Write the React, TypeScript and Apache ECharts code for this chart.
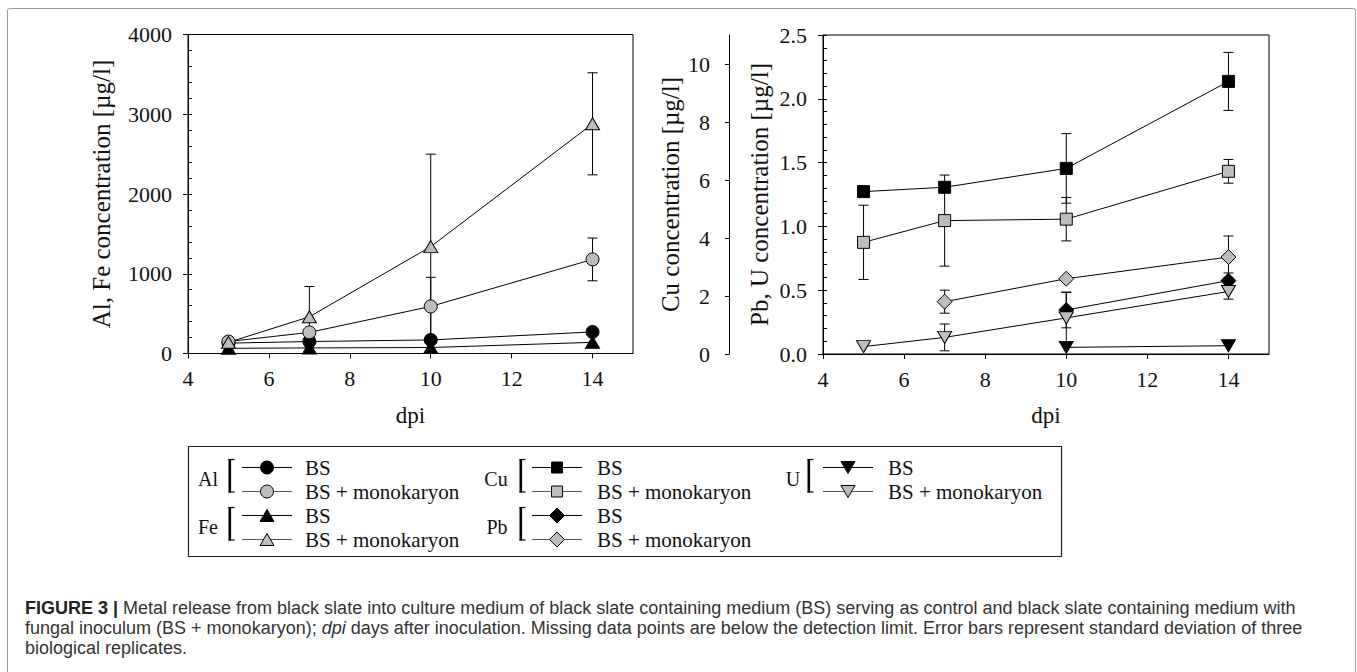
import React, { useEffect, useRef } from 'react';
import * as echarts from 'echarts';

// ---------- data ----------
const days = [5, 7, 10, 14];

const alBS = [130, 150, 170, 270];
const alBSSd = [0, 0, 0, 0];
const alMono = [150, 265, 590, 1180];
const alMonoSd = [0, 0, 365, 268];
const feBS = [65, 70, 75, 140];
const feBSSd = [0, 0, 0, 0];
const feMono = [140, 460, 1340, 2880];
const feMonoSd = [0, 380, 1160, 640];

const cuBS = [5.6, 5.75, 6.4, 9.4];
const cuBSSd = [0, 0, 1.2, 1.0];
const cuMono = [3.85, 4.6, 4.65, 6.3];
const cuMonoSd = [1.28, 1.57, 0.75, 0.41];
const pbBS: (number | null)[] = [null, null, 0.345, 0.575];
const pbBSSd = [0, 0, 0.14, 0.06];
const pbMono: (number | null)[] = [null, 0.41, 0.59, 0.76];
const pbMonoSd = [0, 0.09, 0, 0.165];
const uBS: (number | null)[] = [null, null, 0.052, 0.065];
const uBSSd = [0, 0, 0, 0];
const uMono = [0.058, 0.13, 0.283, 0.49];
const uMonoSd = [0, 0.105, 0.2, 0.06];

const xTickValues = [4, 6, 8, 10, 12, 14];
const cuTickValues = [0, 2, 4, 6, 8, 10];

const captionLine1 =
  'Metal release from black slate into culture medium of black slate containing medium (BS) serving as control and black slate containing medium with';
const captionLine2a = 'fungal inoculum (BS + monokaryon); ';
const captionLine2b =
  ' days after inoculation. Missing data points are below the detection limit. Error bars represent standard deviation of three';
const captionLine3 = 'biological replicates.';

// ---------- styles ----------
const SERIF = "'Liberation Serif', 'Times New Roman', serif";
const SANS = "'Liberation Sans', Arial, sans-serif";
const GRAY = '#bdbdbd';
const INK = '#111';
const CAP = 18;
const LEG = 21;

type Row = (number | null)[];

const pts = (vals: Row) =>
  days.map((d, i) => [d, vals[i]]).filter((p) => p[1] !== null && p[1] !== undefined);

function lineSeries(
  name: string,
  vals: Row,
  symbol: string,
  size: number | number[],
  fill: string,
  xIdx: number,
  yIdx: number,
  rotate = 0
) {
  return {
    type: 'line',
    name,
    xAxisIndex: xIdx,
    yAxisIndex: yIdx,
    data: pts(vals),
    symbol,
    symbolSize: size,
    symbolRotate: rotate,
    showAllSymbol: true,
    z: 3,
    lineStyle: { color: '#000', width: 1 },
    itemStyle: { color: fill, borderColor: '#000', borderWidth: 1, opacity: 1 },
    emphasis: { disabled: true },
    silent: true,
  };
}

function errSeries(vals: Row, sds: number[], xIdx: number, yIdx: number) {
  return {
    type: 'custom',
    xAxisIndex: xIdx,
    yAxisIndex: yIdx,
    z: 2,
    silent: true,
    encode: { x: 0, y: 1 },
    data: days
      .map((d, i) => [d, vals[i], sds[i]])
      .filter((r) => r[1] !== null && (r[2] as number) > 0),
    renderItem: (_p: any, api: any) => {
      const x = api.value(0);
      const y = api.value(1);
      const s = api.value(2);
      const hi = api.coord([x, y + s]);
      const lo = api.coord([x, y - s]);
      const style = { stroke: '#000', lineWidth: 1 };
      return {
        type: 'group',
        children: [
          { type: 'line', shape: { x1: hi[0], y1: hi[1], x2: lo[0], y2: lo[1] }, style },
          { type: 'line', shape: { x1: hi[0] - 5, y1: hi[1], x2: hi[0] + 5, y2: hi[1] }, style },
          { type: 'line', shape: { x1: lo[0] - 5, y1: lo[1], x2: lo[0] + 5, y2: lo[1] }, style },
        ],
      };
    },
  };
}

function xAxis(gridIndex: number) {
  return {
    type: 'value',
    gridIndex,
    min: 4,
    max: 15,
    name: 'dpi',
    nameLocation: 'middle',
    nameGap: 50,
    nameTextStyle: { fontFamily: SERIF, fontSize: 23, color: INK },
    axisLine: { lineStyle: { color: '#000', width: 1 } },
    axisTick: { show: true, length: 5, lineStyle: { color: '#000' }, customValues: xTickValues },
    axisLabel: { fontFamily: SERIF, fontSize: 22, color: INK, margin: 14, customValues: xTickValues },
    splitLine: { show: false },
  };
}

function minorAxis(gridIndex: number, max: number, interval: number) {
  return {
    type: 'value',
    gridIndex,
    min: 0,
    max,
    interval,
    position: 'left',
    axisLine: { show: false },
    axisTick: { show: true, inside: true, length: 4, lineStyle: { color: '#000' } },
    axisLabel: { show: false },
    splitLine: { show: false },
  };
}

// ---------- legend (graphic) ----------
function marker(kind: string, cx: number, cy: number, fill: string) {
  const style = { fill, stroke: '#000', lineWidth: 1 };
  switch (kind) {
    case 'circle':
      return { type: 'circle', shape: { cx, cy, r: 6.5 }, style };
    case 'square':
      return { type: 'rect', shape: { x: cx - 5.5, y: cy - 5.5, width: 11, height: 11 }, style };
    case 'up':
      return { type: 'polygon', shape: { points: [[cx, cy - 6], [cx - 7, cy + 6], [cx + 7, cy + 6]] }, style };
    case 'down':
      return { type: 'polygon', shape: { points: [[cx - 7, cy - 6], [cx + 7, cy - 6], [cx, cy + 6]] }, style };
    default:
      return {
        type: 'polygon',
        shape: { points: [[cx, cy - 7.5], [cx + 7.5, cy], [cx, cy + 7.5], [cx - 7.5, cy]] },
        style,
      };
  }
}

function legendGroup(label: string, labelX: number, bracketX: number, lineX: number, textX: number, y1: number, y2: number, kind: string) {
  const els: any[] = [];
  const labelY = (y1 + y2) / 2 - 0.5;
  els.push({
    type: 'text',
    style: { text: label, x: labelX, y: labelY, align: 'center', verticalAlign: 'middle', font: `20px ${SERIF}`, fill: INK, lineHeight: 20 },
  });
  const top = y1 - 8.5;
  const bot = y2 + 1;
  els.push({ type: 'rect', shape: { x: bracketX, y: top, width: 2.6, height: bot - top }, style: { fill: '#000' } });
  els.push({ type: 'line', shape: { x1: bracketX, y1: top + 0.5, x2: bracketX + 6, y2: top + 0.5 }, style: { stroke: '#000', lineWidth: 1.2 } });
  els.push({ type: 'line', shape: { x1: bracketX, y1: bot - 0.5, x2: bracketX + 6, y2: bot - 0.5 }, style: { stroke: '#000', lineWidth: 1.2 } });
  [
    { y: y1, fill: '#000', stroke: '#000', text: 'BS' },
    { y: y2, fill: GRAY, stroke: '#555', text: 'BS + monokaryon' },
  ].forEach((r) => {
    els.push({ type: 'line', shape: { x1: lineX, y1: r.y, x2: lineX + 50, y2: r.y }, style: { stroke: r.stroke, lineWidth: 1.2 } });
    els.push(marker(kind, lineX + 25, r.y, r.fill));
    els.push({
      type: 'text',
      style: { text: r.text, x: textX, y: r.y, align: 'left', verticalAlign: 'middle', font: `${LEG}px ${SERIF}`, fill: INK, lineHeight: 19 },
    });
  });
  return els;
}

const ROW = [467.5, 491.5, 515.5, 539.5];

function buildGraphic() {
  const els: any[] = [];
  // outer figure frame
  els.push({
    type: 'rect',
    shape: { x: 7.5, y: 8.5, width: 1348, height: 720, r: 2 },
    style: { fill: 'none', stroke: '#9a9a9a', lineWidth: 1 },
    z: 0,
  });
  // legend frame
  els.push({
    type: 'rect',
    shape: { x: 188.5, y: 446.5, width: 873, height: 110 },
    style: { fill: 'none', stroke: '#222', lineWidth: 1.2 },
  });
  els.push(...legendGroup('Al', 208, 228.5, 242, 305, ROW[0], ROW[1], 'circle'));
  els.push(...legendGroup('Fe', 208, 228.5, 242, 305, ROW[2], ROW[3], 'up'));
  els.push(...legendGroup('Cu', 496, 519.5, 532, 597, ROW[0], ROW[1], 'square'));
  els.push(...legendGroup('Pb', 497, 519.5, 532, 597, ROW[2], ROW[3], 'diamond'));
  els.push(...legendGroup('U', 793, 807.5, 823, 888, ROW[0], ROW[1], 'down'));

  // caption
  const base = { fontSize: CAP, fontFamily: SANS, fill: '#333', lineHeight: 19 };
  els.push({
    type: 'text',
    style: {
      x: 25,
      y: 608,
      verticalAlign: 'middle',
      ...base,
      text: `{b|FIGURE 3 |} ${captionLine1}`,
      rich: { b: { fontWeight: 'bold', fontSize: CAP, fontFamily: SANS, fill: '#222', lineHeight: 19 } },
    },
  });
  els.push({
    type: 'text',
    style: {
      x: 25,
      y: 628,
      verticalAlign: 'middle',
      ...base,
      text: `${captionLine2a}{i|dpi}${captionLine2b}`,
      rich: { i: { fontStyle: 'italic', fontSize: CAP, fontFamily: SANS, fill: '#333', lineHeight: 19 } },
    },
  });
  els.push({
    type: 'text',
    style: { x: 25, y: 648, verticalAlign: 'middle', ...base, text: captionLine3 },
  });
  return els;
}

export default function App() {
  const ref = useRef<HTMLDivElement>(null);

  useEffect(() => {
    document.body.style.margin = '0';
    document.body.style.overflow = 'hidden';
    if (!ref.current) return;
    const chart = echarts.init(ref.current, null, { renderer: 'svg' });

    const option: any = {
      animation: false,
      backgroundColor: '#fff',
      grid: [
        { left: 188, top: 34.5, width: 445, height: 319, show: true, borderColor: '#000', borderWidth: 1, backgroundColor: 'transparent', outerBoundsMode: 'none' },
        { left: 823, top: 35, width: 446, height: 319, show: true, borderColor: '#000', borderWidth: 1, backgroundColor: 'transparent', outerBoundsMode: 'none' },
      ],
      xAxis: [xAxis(0), xAxis(1)],
      yAxis: [
        {
          type: 'value',
          gridIndex: 0,
          min: 0,
          max: 4000,
          interval: 1000,
          name: 'Al, Fe concentration [µg/l]',
          nameLocation: 'middle',
          nameGap: 74,
          nameTextStyle: { fontFamily: SERIF, fontSize: 25, color: INK },
          axisLine: { show: true, lineStyle: { color: '#000' } },
          axisTick: { show: true, length: 5, lineStyle: { color: '#000' } },
          axisLabel: { fontFamily: SERIF, fontSize: 22, color: INK, margin: 16, formatter: (v: number) => String(v) },
          splitLine: { show: false },
        },
        minorAxis(0, 4000, 200),
        {
          type: 'value',
          gridIndex: 1,
          min: 0,
          max: 2.5,
          interval: 0.5,
          name: 'Pb, U concentration [µg/l]',
          nameLocation: 'middle',
          nameGap: 51,
          nameTextStyle: { fontFamily: SERIF, fontSize: 25, color: INK },
          axisLine: { show: true, lineStyle: { color: '#000' } },
          axisTick: { show: true, length: 5, lineStyle: { color: '#000' } },
          axisLabel: { fontFamily: SERIF, fontSize: 22, color: INK, margin: 16, formatter: (v: number) => v.toFixed(1) },
          splitLine: { show: false },
        },
        minorAxis(1, 2.5, 0.1),
        {
          type: 'value',
          gridIndex: 1,
          min: 0,
          max: 11,
          position: 'left',
          offset: 94,
          name: 'Cu concentration [µg/l]',
          nameLocation: 'middle',
          nameGap: 46,
          nameTextStyle: { fontFamily: SERIF, fontSize: 25, color: INK },
          axisLine: { show: true, lineStyle: { color: '#000' } },
          axisTick: { show: true, length: 4, lineStyle: { color: '#000' }, customValues: cuTickValues },
          axisLabel: { fontFamily: SERIF, fontSize: 22, color: INK, margin: 19, customValues: cuTickValues },
          splitLine: { show: false },
        },
      ],
      series: [
        errSeries(alMono, alMonoSd, 0, 0),
        errSeries(feMono, feMonoSd, 0, 0),
        errSeries(alBS, alBSSd, 0, 0),
        errSeries(feBS, feBSSd, 0, 0),
        lineSeries('Al BS', alBS, 'circle', 13, '#000', 0, 0),
        lineSeries('Fe BS', feBS, 'triangle', [14, 12], '#000', 0, 0),
        lineSeries('Al BS + monokaryon', alMono, 'circle', 13, GRAY, 0, 0),
        lineSeries('Fe BS + monokaryon', feMono, 'triangle', [14, 12], GRAY, 0, 0),

        errSeries(cuBS, cuBSSd, 1, 4),
        errSeries(cuMono, cuMonoSd, 1, 4),
        errSeries(pbBS, pbBSSd, 1, 2),
        errSeries(pbMono, pbMonoSd, 1, 2),
        errSeries(uBS, uBSSd, 1, 2),
        errSeries(uMono, uMonoSd, 1, 2),
        lineSeries('Cu BS', cuBS, 'rect', 12, '#000', 1, 4),
        lineSeries('Cu BS + monokaryon', cuMono, 'rect', 12, GRAY, 1, 4),
        lineSeries('Pb BS', pbBS, 'diamond', 15, '#000', 1, 2),
        lineSeries('Pb BS + monokaryon', pbMono, 'diamond', 15, GRAY, 1, 2),
        lineSeries('U BS', uBS, 'triangle', [14, 12], '#000', 1, 2, 180),
        lineSeries('U BS + monokaryon', uMono, 'triangle', [14, 12], GRAY, 1, 2, 180),
      ],
      graphic: buildGraphic(),
    };

    chart.setOption(option);
    return () => chart.dispose();
  }, []);

  return <div ref={ref} style={{ width: 1357, height: 672 }} />;
}
